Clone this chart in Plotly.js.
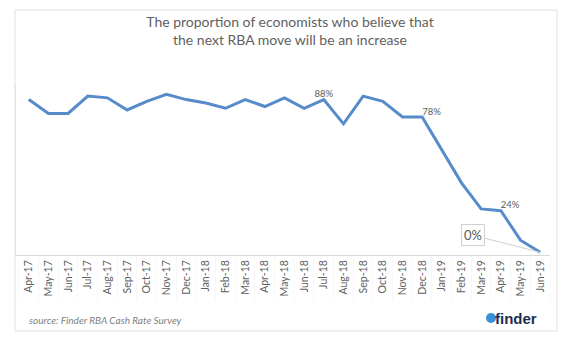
<!DOCTYPE html>
<html>
<head>
<meta charset="utf-8">
<script src="https://cdn.plot.ly/plotly-3.0.1.min.js"></script>
<style>html,body{margin:0;padding:0;background:#fff;}#chart{width:580px;height:352px;}</style>
</head>
<body>
<div id="chart"></div>
<script>
const months = ["Apr-17","May-17","Jun-17","Jul-17","Aug-17","Sep-17","Oct-17","Nov-17","Dec-17","Jan-18","Feb-18","Mar-18","Apr-18","May-18","Jun-18","Jul-18","Aug-18","Sep-18","Oct-18","Nov-18","Dec-18","Jan-19","Feb-19","Mar-19","Apr-19","May-19","Jun-19"];
const share = [88,80,80,90,89,82,87,91,88,86,83,88,84,89,83,88,74,90,87,78,78,59,40,25,24,7,0];
const pointLabels = ["","","","","","","","","","","","","","","","88%","","","","","78%","","","","24%","",""];
const labelPos = ["top center","top center","top center","top center","top center","top center","top center","top center","top center","top center","top center","top center","top center","top center","top center","top center","top center","top center","top center","top center","top right","top center","top center","top center","top right","top center","top center"];
const titleText = "The proportion of economists who believe that<br>the next RBA move will be an increase";
const sourceText = "source: Finder RBA Cash Rate Survey";

const W = 580, H = 352, L = 16, R = 30, T = 85, B = 97;
const pw = W - L - R, ph = H - T - B;
const px = x => (x - L) / pw;
const py = y => (H - B - y) / ph;

const trace = {
  x: months, y: share, type: 'scatter', mode: 'lines+text',
  line: {color: '#578bc9', width: 3},
  text: pointLabels, textposition: labelPos,
  textfont: {family: 'Lato, sans-serif', size: 9.5, color: '#595959'},
  cliponaxis: false, hoverinfo: 'skip'
};

const layout = {
  width: W, height: H,
  margin: {l: L, r: R, t: T, b: B},
  paper_bgcolor: '#ffffff', plot_bgcolor: '#ffffff',
  showlegend: false,
  title: {text: titleText, font: {family: 'Lato, sans-serif', size: 14, color: '#5f5f5f'},
          x: 0.5, xref: 'container', xanchor: 'center', y: 1 - 27/H, yref: 'container', yanchor: 'middle'},
  xaxis: {type: 'category', range: [-0.65, 26.5], showgrid: false, zeroline: false,
          showline: true, linecolor: '#d9d9d9', linewidth: 1,
          ticks: 'outside', tickson: 'boundaries', ticklen: 44, tickcolor: '#f7f7f7', tickwidth: 1,
          tickangle: -90, tickfont: {family: 'Lato, sans-serif', size: 10.5, color: '#606060'}},
  yaxis: {range: [-1.55, 96.4], showgrid: false, zeroline: false, showticklabels: false,
          showline: true, linecolor: '#e3e3e3', linewidth: 1, ticks: ''},
  shapes: [
    {type: 'rect', xref: 'paper', yref: 'paper', x0: px(15), x1: px(557), y0: py(331), y1: py(10),
     line: {color: '#e0e0e0', width: 1}, fillcolor: 'rgba(0,0,0,0)', layer: 'below'},
    {type: 'circle', xref: 'paper', yref: 'paper', xsizemode: 'pixel', ysizemode: 'pixel',
     xanchor: px(491), yanchor: py(318), x0: -5, x1: 5, y0: -5, y1: 5,
     fillcolor: '#3b8fd9', line: {width: 0}}
  ],
  annotations: [
    {x: 'Jun-19', y: 0, xref: 'x', yref: 'y', text: '0%', showarrow: true, arrowhead: 0,
     arrowcolor: '#cfcfcf', arrowwidth: 1, ax: -67, ay: -17,
     font: {family: 'Lato, sans-serif', size: 13, color: '#595959'},
     bordercolor: '#d0d0d0', borderwidth: 1, borderpad: 2, bgcolor: '#ffffff'},
    {xref: 'paper', yref: 'paper', x: px(27), y: py(320), xanchor: 'left', yanchor: 'middle',
     text: '<i>' + sourceText + '</i>', showarrow: false,
     font: {family: 'Lato, sans-serif', size: 10, color: '#7f7f7f'}},
    {xref: 'paper', yref: 'paper', x: px(493), y: py(318), xanchor: 'left', yanchor: 'middle',
     text: '<b>finder</b>', showarrow: false,
     font: {family: 'Liberation Sans, Arial, sans-serif', size: 15, color: '#1f2d4d'}}
  ]
};

Plotly.newPlot('chart', [trace], layout, {displayModeBar: false, staticPlot: true});
</script>
</body>
</html>
